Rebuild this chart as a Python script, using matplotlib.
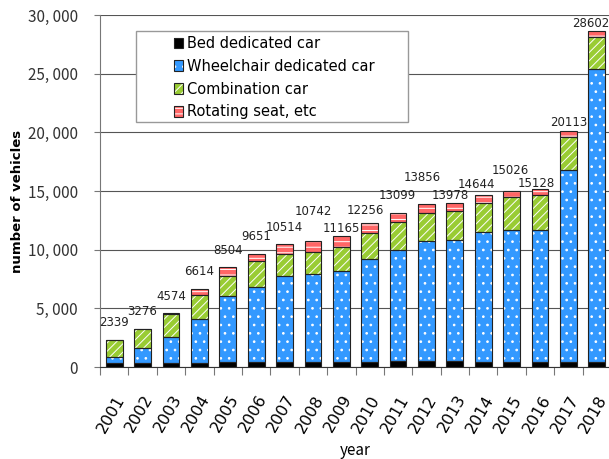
import matplotlib
matplotlib.use("Agg")
import matplotlib.pyplot as plt
import matplotlib.transforms as mtransforms
from matplotlib.patches import Patch, Rectangle
import numpy as np

plt.rcParams['font.family'] = ['Noto Sans CJK JP', 'DejaVu Sans']
plt.rcParams['hatch.linewidth'] = 0.7

# data
years = [str(y) for y in range(2001, 2019)]
bed = [310, 330, 340, 350, 400, 460, 450, 460, 460, 460, 540, 540, 470, 460, 460, 460, 460, 460]
wheelchair = [570, 1260, 2250, 3710, 5650, 6360, 7310, 7440, 7690, 8720, 9400, 10170, 10330, 11020,
              11240, 11240, 16330, 24910]
combination = [1439, 1656, 1944, 2050, 1730, 2180, 1840, 1930, 2050, 2210, 2390, 2440, 2520, 2520,
               2760, 2930, 2840, 2780]
rotating = [20, 30, 40, 504, 724, 651, 914, 912, 965, 866, 769, 706, 658, 644, 566, 498, 483, 452]
totals = [2339, 3276, 4574, 6614, 8504, 9651, 10514, 10742, 11165, 12256, 13099, 13856, 13978,
          14644, 15026, 15128, 20113, 28602]
series_names = ['Bed dedicated car', 'Wheelchair dedicated car', 'Combination car', 'Rotating seat, etc']

# label placement (px above bar top, px sideways) as excel put them
label_dy = [17, 17, 17, 18, 17, 17, 16, 29, 7, 13, 18, 27, 7, 11, 20, 6, 9, 8]
label_dx = [0, 0, 0, 0, 0, 0, 0, 0, 0, -4, -1, -4, -5, -7, -1, -4, 0, -6]

colors = ['#000000', '#3399FF', '#99CC33', '#FF6666']
hatches = [None, '..', '////', '---']

fig = plt.figure(figsize=(6.09, 4.59), dpi=100)
ax = fig.add_axes([100 / 609, 92 / 459, 511 / 609, 352 / 459])

x = np.arange(len(years))
width = 0.59
bottom = np.zeros(len(years))
handles = []
for vals, col, hat, name in zip([bed, wheelchair, combination, rotating], colors, hatches, series_names):
    vals = np.array(vals)
    ax.bar(x, vals, width, bottom=bottom, color=col, hatch=hat, edgecolor='white', linewidth=0, zorder=2)
    ax.bar(x, vals, width, bottom=bottom, facecolor='none', edgecolor='#222222', linewidth=0.8, zorder=3)
    bottom += vals
    handles.append((Patch(facecolor=col, hatch=hat, edgecolor='white', linewidth=0),
                    Patch(facecolor='none', edgecolor='#222222', linewidth=0.8)))

for i, t in enumerate(totals):
    ax.annotate(str(t), (x[i], t), xytext=(label_dx[i] * 0.72, label_dy[i] * 0.72),
                textcoords='offset points', ha='center', va='center', fontsize=8.5,
                color='#222222', family=['DejaVu Sans'], annotation_clip=False)

ax.set_xlim(-0.5, 17.5)
ax.set_ylim(0, 30000)
ax.set_yticks(range(0, 30001, 5000))
ax.set_yticklabels([f"{v:,}".replace(",", ", ") for v in range(0, 30001, 5000)], fontsize=11, color='#333333')
ax.yaxis.grid(True, color='#555555', linewidth=0.8, zorder=0)
ax.set_axisbelow(True)

ax.set_xticks(np.arange(-0.5, 18, 1), minor=False)
ax.set_xticklabels([])
ax.set_xticks(x, minor=True)
ax.set_xticklabels(years, minor=True, rotation=60, ha='right', va='center',
                   rotation_mode='anchor', fontsize=11.5, family=['DejaVu Sans'])
ax.tick_params(axis='x', which='major', length=6, color='#777777', direction='out')
ax.tick_params(axis='x', which='minor', length=0, pad=21)
ax.tick_params(axis='y', length=4, color='#777777', pad=12)
offset = mtransforms.ScaledTranslation(7 / 100, 0, fig.dpi_scale_trans)
for lab in ax.get_xticklabels(minor=True):
    lab.set_transform(lab.get_transform() + offset)

for s in ['top', 'right']:
    ax.spines[s].set_visible(False)
ax.spines['left'].set_color('#777777')
ax.spines['bottom'].set_color('#333333')

ax.set_xlabel('year', fontsize=11, va='center')
ax.xaxis.set_label_coords(0.5, -0.236)
ax.set_ylabel('number of vehicles', fontsize=9.5, fontweight='bold', family=['DejaVu Sans'], va='center')
ax.yaxis.set_label_coords(-0.161, 0.47)

# legend box drawn separately: excel leaves a wide margin on the left
ax.add_patch(Rectangle((0.0705, 0.696), 0.533, 0.259, transform=ax.transAxes, facecolor='white',
                       edgecolor='#999999', linewidth=1.0, zorder=4))
leg = ax.legend(handles, series_names, loc='upper left', bbox_to_anchor=(0.145, 0.94),
                frameon=False, prop={'family': ['DejaVu Sans'], 'size': 10.5},
                handlelength=0.6, handleheight=0.75, handletextpad=0.3, labelspacing=0.53,
                borderpad=0, borderaxespad=0)
leg.set_zorder(5)

fig.savefig('out.png', dpi=100)
